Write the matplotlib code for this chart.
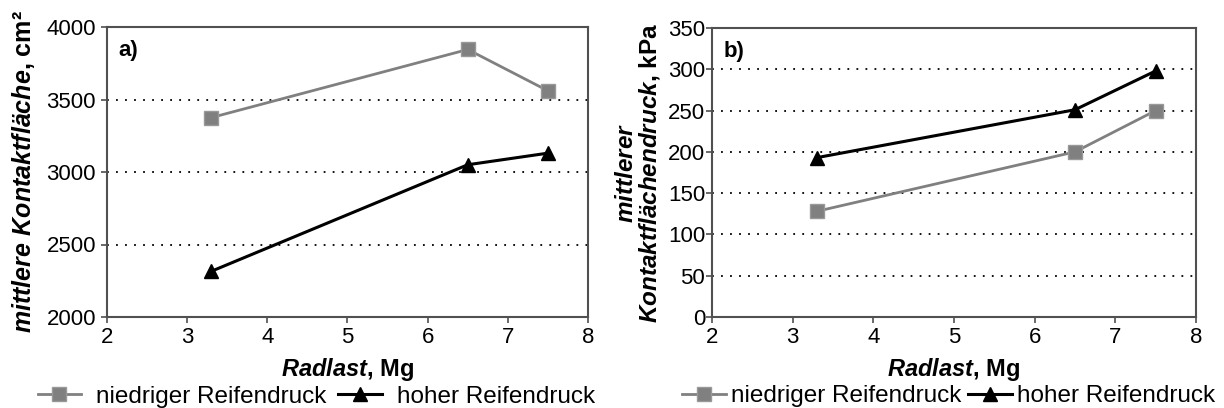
import matplotlib
matplotlib.use("Agg")
import matplotlib.pyplot as plt

plt.rcParams["font.family"] = ["Liberation Sans", "DejaVu Sans"]
plt.rcParams["mathtext.fontset"] = "custom"
plt.rcParams["mathtext.it"] = "Liberation Sans:italic:bold"
plt.rcParams["mathtext.bf"] = "Liberation Sans:bold"
plt.rcParams["mathtext.rm"] = "Liberation Sans:bold"

# data
radlast = [3.3, 6.5, 7.5]
flaeche_niedrig = [3375, 3845, 3560]
flaeche_hoch = [2315, 3050, 3130]
druck_niedrig = [128, 200, 250]
druck_hoch = [193, 251, 298]

GRAU = "#808080"
W, H = 1224, 408

fig = plt.figure(figsize=(12.24, 4.08), dpi=100)
ax1 = fig.add_axes([107 / W, 1 - 317 / H, 481 / W, 290 / H])
ax2 = fig.add_axes([712 / W, 1 - 317 / H, 484 / W, 289 / H])

panels = [
    dict(ax=ax1, niedrig=flaeche_niedrig, hoch=flaeche_hoch, ylim=(2000, 4000),
         yticks=range(2000, 4001, 500),
         ylabel=r"$\mathit{mittlere\ Kontaktfläche}$, cm²", tag="a)",
         ypad=7, tickpad=4, lx=0.435, tpad=0.6, cspace=0.5, yfs=18),
    dict(ax=ax2, niedrig=druck_niedrig, hoch=druck_hoch, ylim=(0, 350),
         yticks=range(0, 351, 50),
         ylabel="$\\mathit{mittlerer}$\n$\\mathit{Kontaktflächendruck}$, kPa", tag="b)",
         ypad=4, tickpad=1, lx=0.489, tpad=0.2, cspace=0.3, yfs=17.5),
]

for p in panels:
    ax = p["ax"]
    ax.plot(radlast, p["niedrig"], color=GRAU, marker="s", markersize=10,
            markeredgecolor="#999999", linewidth=2, label="niedriger Reifendruck")
    ax.plot(radlast, p["hoch"], color="black", marker="^", markersize=10,
            linewidth=2.2, label="hoher Reifendruck")
    ax.set_xlim(2, 8)
    ax.set_ylim(*p["ylim"])
    ax.set_xticks(range(2, 9))
    ax.set_yticks(list(p["yticks"]))
    ax.yaxis.grid(True, linestyle=(0, (1, 4)), color="black", linewidth=1.3)
    ax.set_axisbelow(True)
    for s in ax.spines.values():
        s.set_color("#505050")
        s.set_linewidth(1.5)
    ax.tick_params(labelsize=16, length=4, color="#505050", width=1.2)
    ax.tick_params(axis="y", pad=p["tickpad"])
    ax.tick_params(axis="x", pad=3)
    ax.set_xlabel("$\\mathit{Radlast}$, Mg", fontsize=17, fontweight="bold", labelpad=6)
    ax.set_ylabel(p["ylabel"], fontsize=p["yfs"], fontweight="bold",
                  labelpad=p["ypad"], linespacing=0.95)
    ax.text(0.023, 0.955, p["tag"], transform=ax.transAxes, fontsize=16,
            fontweight="bold", va="top", ha="left")
    ax.legend(loc="center", bbox_to_anchor=(p["lx"], -0.275), ncol=2,
              frameon=False, fontsize=17.5, handlelength=1.8,
              columnspacing=p["cspace"], handletextpad=p["tpad"],
              borderaxespad=0, borderpad=0)

fig.savefig("out.png", dpi=100)
